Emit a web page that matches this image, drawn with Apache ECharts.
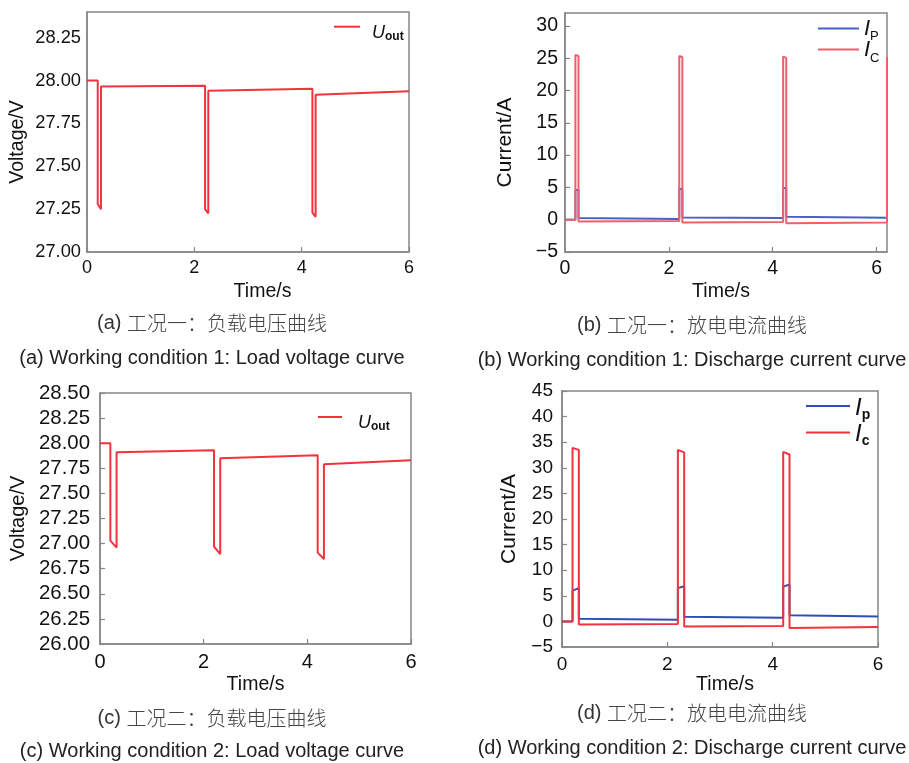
<!DOCTYPE html>
<html>
<head>
<meta charset="utf-8">
<script src="https://cdn.jsdelivr.net/npm/echarts@6/dist/echarts.min.js"></script>
<style>
  html, body { margin: 0; padding: 0; background: #ffffff; }
  #chart { width: 909px; height: 763px; }
</style>
</head>
<body>
<div id="chart"></div>
<script>
// ---------- data ----------
// (a) Working condition 1: load voltage
const timeA = [0, 0.2, 0.2, 0.26, 0.26, 2.2, 2.2, 2.26, 2.26, 4.2, 4.2, 4.26, 4.26, 6];
const voltA = [28.0, 28.0, 27.28, 27.25, 27.965, 27.97, 27.25, 27.225, 27.94, 27.953, 27.23, 27.205, 27.917, 27.938];

// (b) Working condition 1: discharge current
const timeB = [0, 0.2, 0.2, 0.26, 0.26, 2.2, 2.2, 2.26, 2.26, 4.2, 4.2, 4.26, 4.26, 6.2, 6.2];
const ipB   = [0, 0, 4.6, 4.6, 0.27, 0.1, 4.7, 4.8, 0.36, 0.25, 4.85, 4.95, 0.47, 0.3];
const icB   = [0, 0, 25.5, 25.35, -0.26, -0.2, 25.35, 25.15, -0.45, -0.35, 25.25, 25.05, -0.55, -0.45, 25.2];

// (c) Working condition 2: load voltage
const timeC = [0, 0.2, 0.2, 0.32, 0.32, 2.2, 2.2, 2.32, 2.32, 4.2, 4.2, 4.32, 4.32, 6];
const voltC = [28.0, 28.0, 27.03, 26.96, 27.91, 27.93, 26.97, 26.895, 27.85, 27.88, 26.91, 26.845, 27.79, 27.83];

// (d) Working condition 2: discharge current
const timeD = [0, 0.2, 0.2, 0.32, 0.32, 2.2, 2.2, 2.32, 2.32, 4.2, 4.2, 4.32, 4.32, 6];
const ipD   = [0, 0, 6.0, 6.5, 0.5, 0.3, 6.5, 6.85, 0.9, 0.7, 6.8, 7.2, 1.2, 0.95];
const icD   = [0, 0, 33.9, 33.5, -0.6, -0.5, 33.5, 33.0, -1.0, -0.9, 33.1, 32.6, -1.3, -1.1];

// captions
const captionsCN = ['工况一：负载电压曲线', '工况一：放电电流曲线', '工况二：负载电压曲线', '工况二：放电电流曲线'];
const captionsEN = ['Working condition 1: Load voltage curve', 'Working condition 1: Discharge current curve',
                    'Working condition 2: Load voltage curve', 'Working condition 2: Discharge current curve'];
const captionTags = ['(a) ', '(b) ', '(c) ', '(d) '];

// ---------- helpers ----------
const FONT = "'Liberation Sans', Arial, Helvetica, sans-serif";
const CJK = "'Noto Sans CJK SC', 'Noto Sans CJK JP', sans-serif";
const AXIS_GREY = '#878787';
const TXT = '#111111';

function zip(xs, ys) { return ys.map((v, i) => [xs[i], v]); }
function minusFmt(v) { return v < 0 ? '\u2212' + Math.abs(v) : String(v); }
function twoDec(v) { return v.toFixed(2); }

function makeX(gi, max, fs, nameGap, namePad, margin) {
  return {
    type: 'value', gridIndex: gi, min: 0, max: max, interval: 2,
    axisLine: { show: true, onZero: false, lineStyle: { color: AXIS_GREY, width: 1.5 } },
    axisTick: { show: true, inside: true, length: 5, lineStyle: { color: AXIS_GREY, width: 1.2 } },
    axisLabel: { fontSize: fs, color: TXT, fontFamily: FONT, margin: margin, showMaxLabel: max === 6 ? true : false },
    splitLine: { show: false },
    name: 'Time/s', nameLocation: 'middle', nameGap: nameGap,
    nameTextStyle: { fontSize: 19.5, color: TXT, fontFamily: FONT, padding: namePad }
  };
}
function makeY(gi, min, max, interval, fs, fmt, name, nameSize, nameGap, namePad, margin, ticks, hideMax) {
  return {
    type: 'value', gridIndex: gi, min: min, max: max, interval: interval,
    axisLine: { show: true, onZero: false, lineStyle: { color: AXIS_GREY, width: 1.5 } },
    axisTick: { show: ticks, inside: true, length: 5, lineStyle: { color: AXIS_GREY, width: 1.2 } },
    axisLabel: { fontSize: fs, color: TXT, fontFamily: FONT, margin: margin, formatter: fmt, showMaxLabel: !hideMax },
    splitLine: { show: false },
    name: name, nameLocation: 'middle', nameGap: nameGap,
    nameTextStyle: { fontSize: nameSize, color: TXT, fontFamily: FONT, padding: namePad }
  };
}
function lineSeries(name, xi, data, color) {
  return {
    type: 'line', name: name, xAxisIndex: xi, yAxisIndex: xi, data: data,
    symbol: 'none', showSymbol: false, smooth: false,
    lineStyle: { color: color, width: 2 }, itemStyle: { color: color },
    emphasis: { disabled: true }, animation: false
  };
}

const RED = '#f2333d';
const RED_B = '#f0606c';
const BLUE_B = '#4861c2';
const BLUE_D = '#2d4fb6';

// legend labels: italic main letter + subscript
const legendText = {
  'Uout (a)': '{i|U}{s|out}',
  'Uout (c)': '{i|U}{s|out}',
  'IP (b)': '{i|I}{s|P}',
  'IC (b)': '{i|I}{s|C}',
  'Ip (d)': '{i|I}{s|p}',
  'Ic (d)': '{i|I}{s|c}'
};

function richU(gapLeft) {
  return {
    i: { fontSize: 18, fontStyle: 'italic', fontFamily: FONT, color: TXT, lineHeight: 18, verticalAlign: 'top', padding: [6, 0, 0, gapLeft] },
    s: { fontSize: 12, fontWeight: 'bold', fontFamily: FONT, color: TXT, lineHeight: 12, verticalAlign: 'top', padding: [13, 0, 0, 0] }
  };
}

const captionGraphics = [];
const capPos = [
  { cx: 212, cyCN: 323, cyEN: 358 },
  { cx: 692, cyCN: 325, cyEN: 360 },
  { cx: 212, cyCN: 718, cyEN: 751.5 },
  { cx: 692, cyCN: 713, cyEN: 748 }
];
capPos.forEach((p, k) => {
  captionGraphics.push({
    type: 'text', x: p.cx, y: p.cyCN, silent: true,
    style: {
      text: '{e|' + captionTags[k] + '}{c|' + captionsCN[k] + '}',
      align: 'center', verticalAlign: 'middle',
      rich: {
        e: { fontSize: 20, fontFamily: FONT, fill: '#333333' },
        c: { fontSize: 20, fontFamily: CJK, fill: '#444444', fontWeight: 300 }
      }
    }
  });
  captionGraphics.push({
    type: 'text', x: p.cx, y: p.cyEN, silent: true,
    style: {
      text: captionTags[k] + captionsEN[k],
      align: 'center', verticalAlign: 'middle',
      fontSize: 20, fontFamily: FONT, fill: '#222222'
    }
  });
});

const legendBase = { padding: 0, orient: 'vertical', icon: 'rect', itemHeight: 2, selectedMode: false,
                     formatter: n => legendText[n] };

const option = {
  backgroundColor: '#ffffff',
  animation: false,
  grid: [
    { left: 87, top: 12, width: 322, height: 240, show: true, borderColor: AXIS_GREY, borderWidth: 1.5 },
    { left: 565, top: 13, width: 322, height: 239, show: true, borderColor: AXIS_GREY, borderWidth: 1.5 },
    { left: 100, top: 393, width: 311, height: 251, show: true, borderColor: AXIS_GREY, borderWidth: 1.5 },
    { left: 562, top: 391, width: 316, height: 256, show: true, borderColor: AXIS_GREY, borderWidth: 1.5 }
  ],
  xAxis: [
    makeX(0, 6, 18, 30, [0, 0, 0, 29], 7),
    makeX(1, 6.2, 19.5, 30, [0, 10, 0, 0], 7),
    makeX(2, 6, 20, 31, [0, 0, 0, 0], 8),
    makeX(3, 6, 19, 26, [0, 0, 0, 10], 8)
  ],
  yAxis: [
    makeY(0, 27, 28.4, 0.25, 18.3, twoDec, 'Voltage/V', 19.5, 59, [0, 20, 0, 0], 6, false, true),
    makeY(1, -5, 32, 5, 19.5, minusFmt, 'Current/A', 21, 49, [0, 20, 0, 0], 7, true, true),
    makeY(2, 26, 28.5, 0.25, 20.4, twoDec, 'Voltage/V', 20, 72, [0, 0, 0, 0], 10, true, false),
    makeY(3, -5, 45, 5, 19, minusFmt, 'Current/A', 21, 42, [0, 0, 0, 0], 9, true, false)
  ],
  legend: [
    Object.assign({}, legendBase, {
      data: ['Uout (a)'], left: 334, top: 17.7, itemWidth: 26,
      textStyle: { rich: richU(7) }
    }),
    Object.assign({}, legendBase, {
      data: ['IP (b)', 'IC (b)'], left: 818, top: 17.4, itemWidth: 41, itemGap: -6.8,
      textStyle: { rich: {
        i: { fontSize: 22, fontStyle: 'italic', fontFamily: FONT, color: TXT, lineHeight: 22, verticalAlign: 'top', padding: [0, 0, 0, 0] },
        s: { fontSize: 13, fontFamily: FONT, color: TXT, lineHeight: 13, verticalAlign: 'top', padding: [13, 0, 2, 0] }
      } }
    }),
    Object.assign({}, legendBase, {
      data: ['Uout (c)'], left: 318, top: 408, itemWidth: 24,
      textStyle: { rich: richU(11) }
    }),
    Object.assign({}, legendBase, {
      data: ['Ip (d)', 'Ic (d)'], left: 806, top: 394, itemWidth: 44, itemGap: -1.4,
      textStyle: { rich: {
        i: { fontSize: 24, fontStyle: 'italic', fontFamily: FONT, color: TXT, lineHeight: 24, verticalAlign: 'top', padding: [2, 0, 0, 0] },
        s: { fontSize: 14, fontWeight: 'bold', fontFamily: FONT, color: TXT, lineHeight: 14, verticalAlign: 'top', padding: [14, 0, 0, 0] }
      } }
    })
  ],
  series: [
    lineSeries('Uout (a)', 0, zip(timeA, voltA), RED),
    lineSeries('IP (b)', 1, zip(timeB, ipB), BLUE_B),
    lineSeries('IC (b)', 1, zip(timeB, icB), RED_B),
    lineSeries('Uout (c)', 2, zip(timeC, voltC), RED),
    lineSeries('Ip (d)', 3, zip(timeD, ipD), BLUE_D),
    lineSeries('Ic (d)', 3, zip(timeD, icD), RED)
  ],
  graphic: captionGraphics
};

const chart = echarts.init(document.getElementById('chart'), null, { renderer: 'canvas' });
chart.setOption(option);
</script>
</body>
</html>
